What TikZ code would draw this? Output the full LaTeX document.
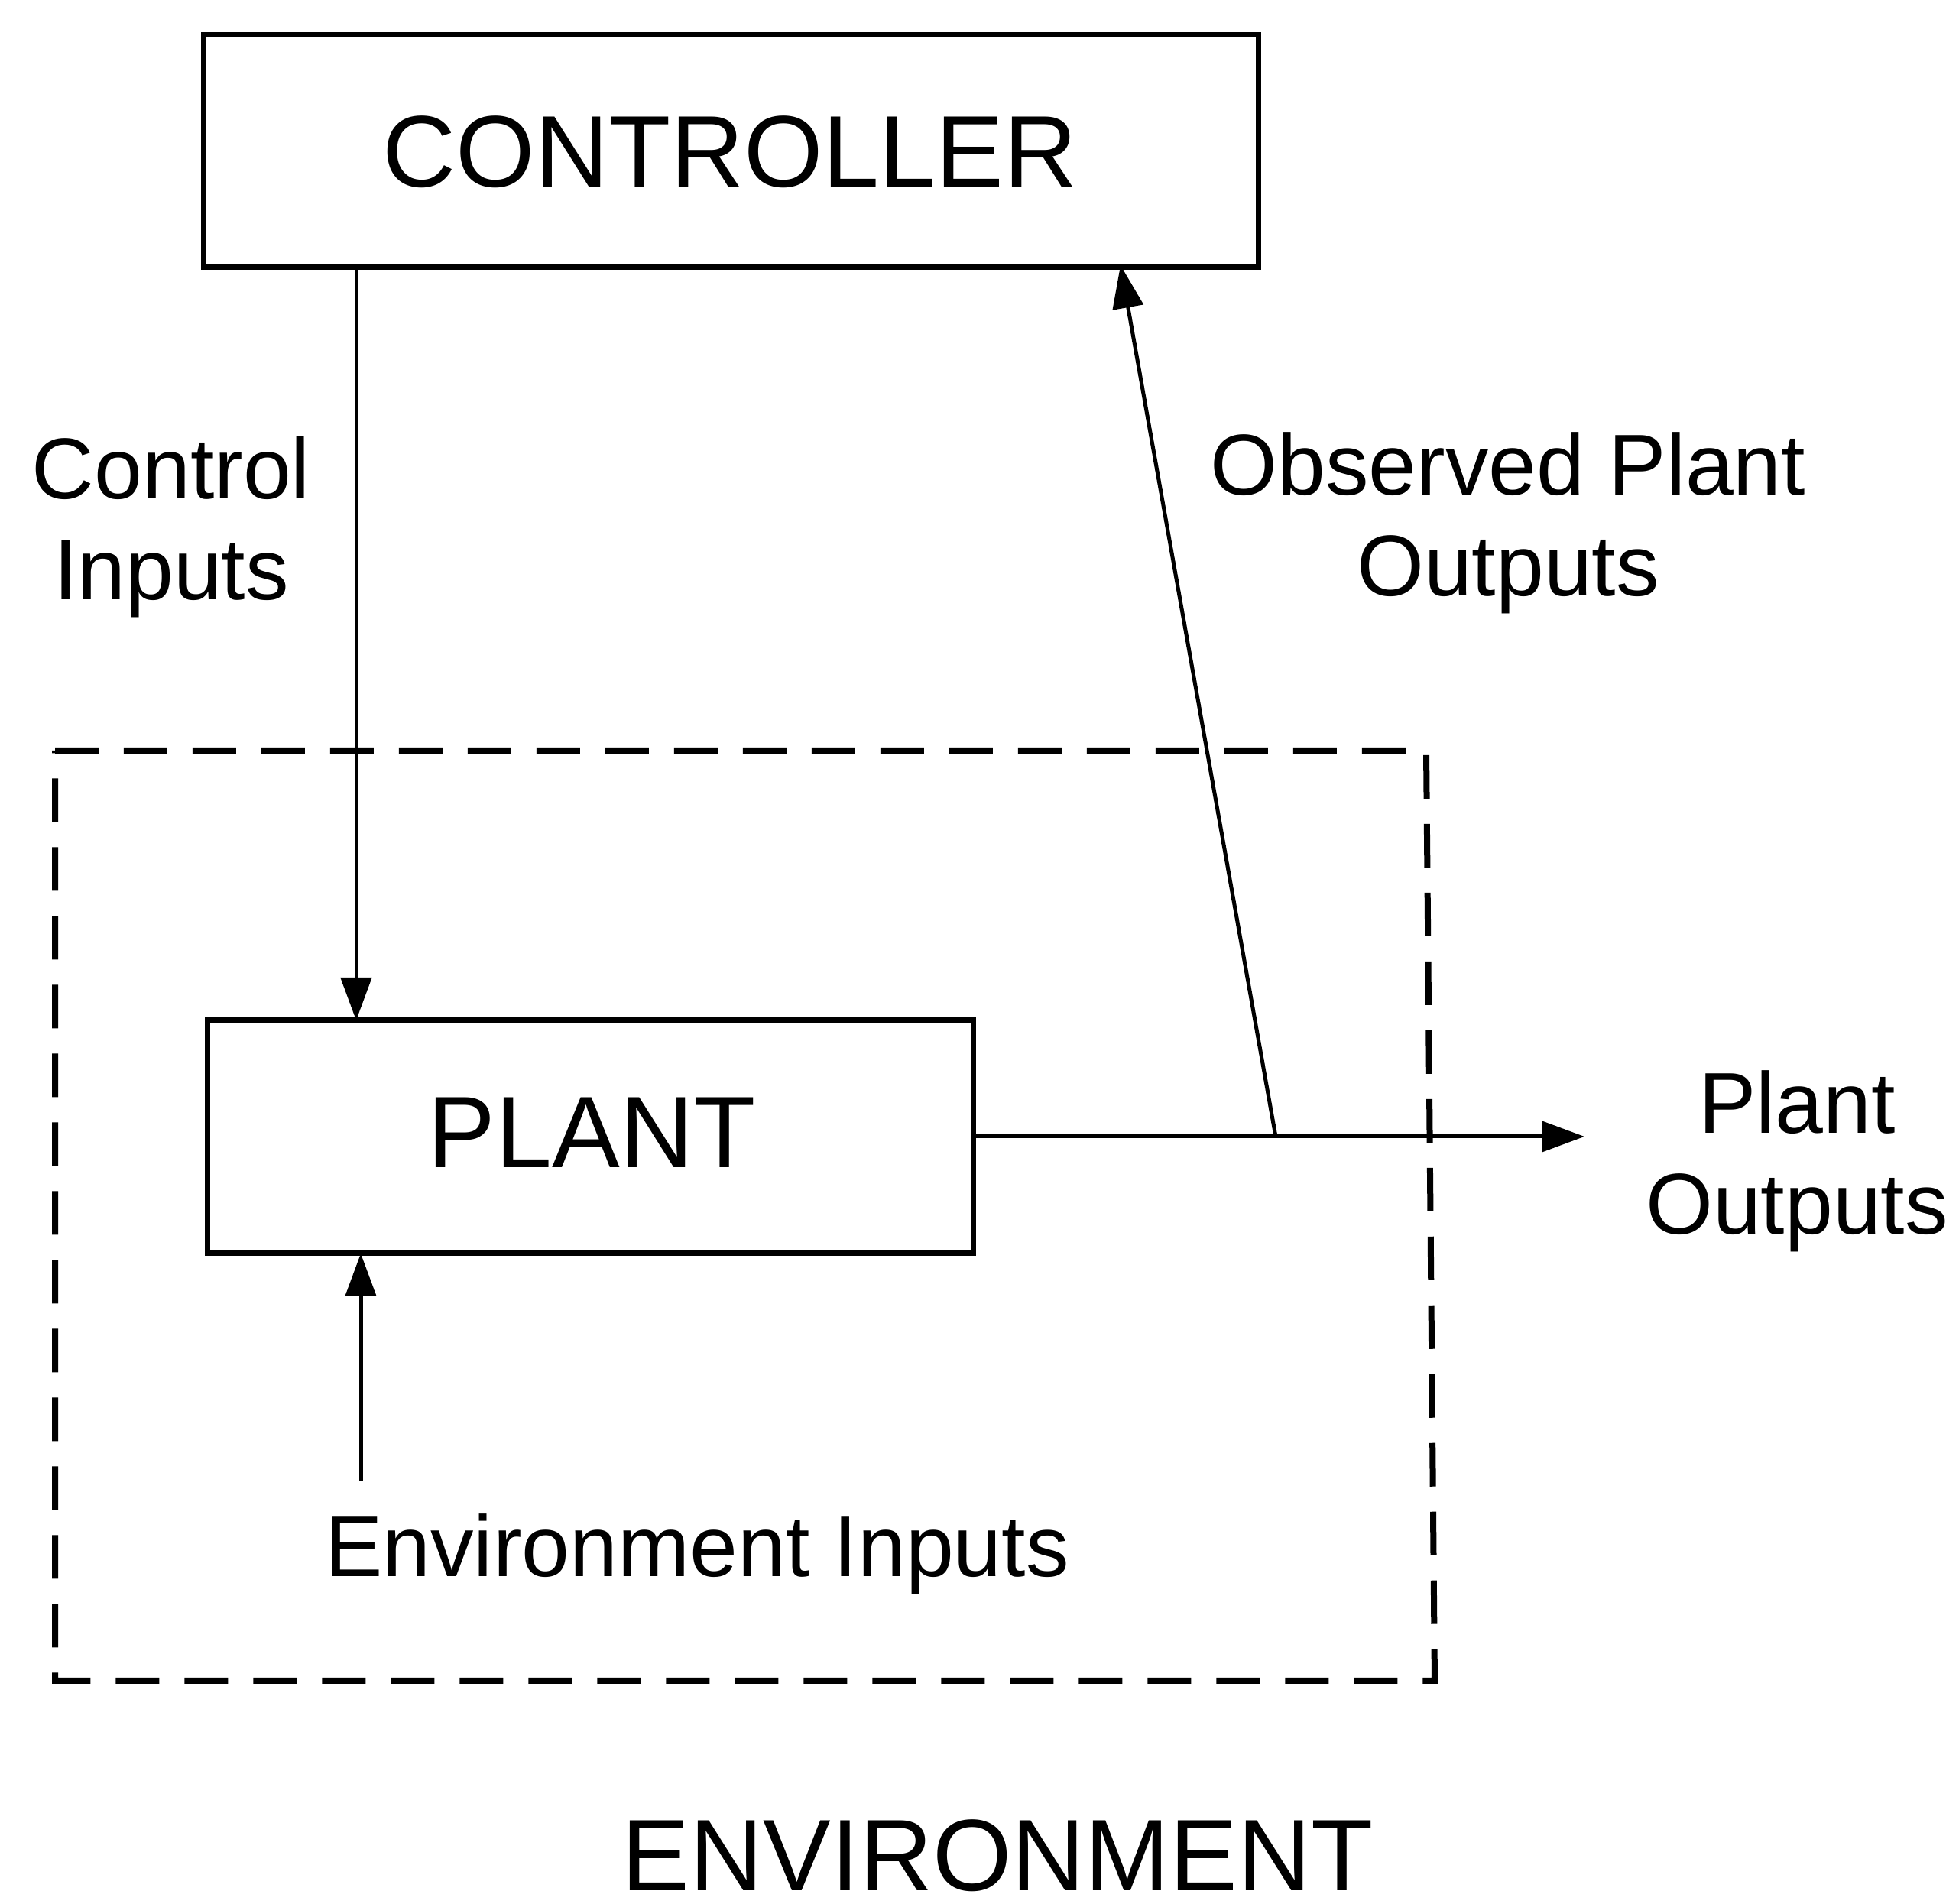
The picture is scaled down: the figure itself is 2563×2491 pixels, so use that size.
\documentclass[tikz,border=0pt]{standalone}
\usepackage{fontspec}
\setmainfont{Liberation Sans}
\usetikzlibrary{arrows.meta}
\begin{document}
\begin{tikzpicture}[x=0.1pt,y=-0.1pt,
  box/.style={draw,line width=0.7pt,inner sep=0pt},
  conn/.style={line width=0.5pt,-{Triangle[length=5.6pt,width=4pt]}},
  big/.style={font=\fontsize{13.3}{16}\selectfont,inner sep=0pt,anchor=base},
  lab/.style={font=\fontsize{11.3}{13.2}\selectfont,inner sep=0pt,anchor=base,align=center},
  envbox/.style={line width=0.8pt,dash pattern=on 5.7pt off 3.3pt}]
\useasboundingbox (0,0) rectangle (2563,2491);
% boxes
\draw[box] (266,46) rectangle (1646,350);
\node[big] (ctrl) at (955,245) {CONTROLLER};
\draw[box] (271,1335) rectangle (1273,1640);
\node[big] (plant) at (774,1528) {PLANT};
% environment dashed box
\draw[envbox] (72,982) -- (1866,982) -- (1877,2199) -- (72,2199) -- cycle;
\node[big] (env) at (1305,2474) {ENVIRONMENT};
% coordinates
\coordinate (ctrlOut) at (466,350);
\coordinate (plantIn) at (466,1335);
\coordinate (envStart) at (472,1937);
\coordinate (plantEnvIn) at (472,1640);
\coordinate (plantOut) at (1273,1487);
\coordinate (branch) at (1669,1487);
\coordinate (outEnd) at (2073,1487);
\coordinate (ctrlIn) at (1466,347);
% connectors
\draw[conn] (ctrlOut) -- (plantIn);
\draw[conn] (envStart) -- (plantEnvIn);
\draw[conn] (plantOut) -- (branch) -- (outEnd);
\draw[conn] (branch) -- (ctrlIn);
% labels
\node[lab] (ci) at (224,785) {Control\\Inputs};
\node[lab] (opo) at (1973,780) {Observed Plant\\Outputs};
\node[lab] (po) at (2351,1615) {Plant\\Outputs};
\node[lab] (ei) at (912,2063) {Environment Inputs};
\end{tikzpicture}
\end{document}
